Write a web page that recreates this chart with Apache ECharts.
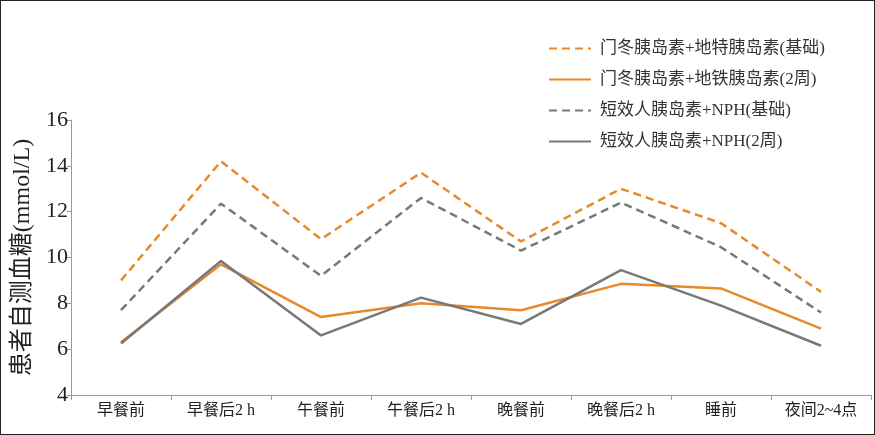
<!DOCTYPE html>
<html>
<head>
<meta charset="utf-8">
<script src="https://cdn.jsdelivr.net/npm/echarts@6/dist/echarts.min.js"></script>
<style>
  html, body { margin: 0; padding: 0; background: #fff; }
  #chart { width: 875px; height: 435px; box-sizing: border-box; border: 1px solid #222; }
</style>
</head>
<body>
<div id="chart"></div>
<script>
  const categories = ['早餐前', '早餐后2 h', '午餐前', '午餐后2 h', '晚餐前', '晚餐后2 h', '睡前', '夜间2~4点'];
  const seriesNames = [
    '门冬胰岛素+地特胰岛素(基础)',
    '门冬胰岛素+地铁胰岛素(2周)',
    '短效人胰岛素+NPH(基础)',
    '短效人胰岛素+NPH(2周)'
  ];
  const aspartDetemirBase = [9.0, 14.2, 10.8, 13.7, 10.7, 13.0, 11.5, 8.5];
  const aspartDetemir2w = [6.3, 9.7, 7.4, 8.0, 7.7, 8.85, 8.65, 6.9];
  const humanNphBase = [7.7, 12.35, 9.2, 12.6, 10.3, 12.4, 10.45, 7.6];
  const humanNph2w = [6.25, 9.85, 6.6, 8.25, 7.1, 9.45, 7.9, 6.15];

  const orange = '#E8892B';
  const gray = '#787878';
  const latin = '"Liberation Serif", "Noto Sans CJK SC", serif';

  const chart = echarts.init(document.getElementById('chart'), null, { renderer: 'canvas' });

  function line(name, data, color, dashed) {
    return {
      name,
      type: 'line',
      data,
      symbol: 'none',
      lineStyle: { color, width: 2.5, type: dashed ? [8, 5] : 'solid' },
      itemStyle: { color }
    };
  }

  chart.setOption({
    animation: false,
    grid: { left: 70, right: 3, top: 119, bottom: 39 },
    legend: {
      orient: 'vertical',
      left: 542,
      top: 34,
      itemWidth: 42,
      itemHeight: 16,
      itemGap: 14,
      itemStyle: { opacity: 0 },
      textStyle: { fontSize: 17, color: '#333', fontFamily: latin, padding: [0, 0, 0, 4] },
      data: seriesNames
    },
    xAxis: {
      type: 'category',
      data: categories,
      boundaryGap: true,
      axisLine: { lineStyle: { color: '#999', width: 1 } },
      axisTick: { show: true, alignWithLabel: false, length: 5, lineStyle: { color: '#999' } },
      axisLabel: { fontSize: 16, color: '#222', fontFamily: latin, margin: 8, interval: 0 }
    },
    yAxis: {
      type: 'value',
      min: 4,
      max: 16,
      interval: 2,
      name: '患者自测血糖(mmol/L)',
      nameLocation: 'middle',
      nameGap: 32,
      nameRotate: 90,
      nameTextStyle: { fontSize: 24, color: '#222', fontFamily: latin },
      axisLine: { show: true, lineStyle: { color: '#999', width: 1 } },
      axisTick: { show: true, length: 4, lineStyle: { color: '#999' } },
      axisLabel: { fontSize: 22, color: '#222', fontFamily: latin, margin: 3 },
      splitLine: { show: false }
    },
    series: [
      line(seriesNames[0], aspartDetemirBase, orange, true),
      line(seriesNames[1], aspartDetemir2w, orange, false),
      line(seriesNames[2], humanNphBase, gray, true),
      line(seriesNames[3], humanNph2w, gray, false)
    ]
  });
</script>
</body>
</html>
